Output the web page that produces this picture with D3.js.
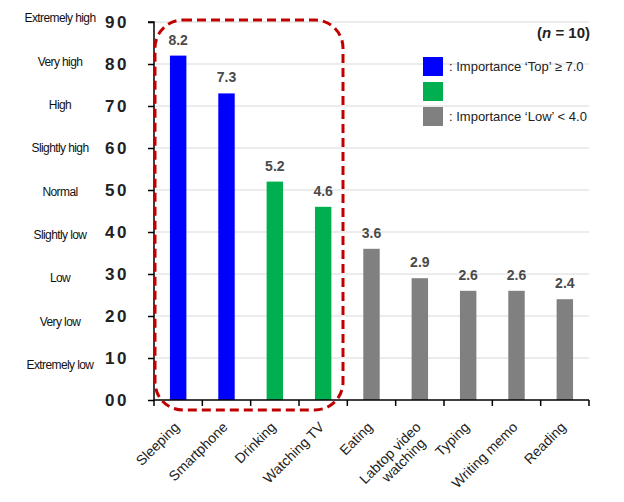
<!DOCTYPE html>
<html><head><meta charset="utf-8">
<script src="https://cdn.jsdelivr.net/npm/d3@7"></script>
<style>body{margin:0;background:#fff}text{font-family:"Liberation Sans",Arial,sans-serif}</style>
</head><body><svg id="c" width="624" height="502"></svg>
<script>
const categories = ["Sleeping","Smartphone","Drinking","Watching TV","Eating","Labtop video|watching","Typing","Writing memo","Reading"];
const values = [8.2,7.3,5.2,4.6,3.6,2.9,2.6,2.6,2.4];
const groups = ["top","top","mid","mid","low","low","low","low","low"];
const tickValues = [0,1,2,3,4,5,6,7,8,9];
const tickLabels = ["00","10","20","30","40","50","60","70","80","90"];
const levelLabels = ["","Extremely low","Very low","Low","Slightly low","Normal","Slightly high","High","Very high","Extremely high"];
const legendKeys = ["top","mid","low"];
const legendTexts = [": Importance \u2018Top\u2019 \u2265 7.0", "", ": Importance \u2018Low\u2019 < 4.0"];
const colors = {top:"#0000FF", mid:"#00B050", low:"#808080"};

const svg = d3.select("#c");
const x = d3.scaleBand().domain(categories).range([154,589]).paddingInner(0.66).paddingOuter(0.33);
const y = d3.scaleLinear().domain([0,9]).range([400,22]);
const labelY = d3.scaleLinear().domain([1,9]).range([365,18]);

// gridlines
svg.append("g").selectAll("line").data(tickValues.filter(d=>d>0)).join("line")
  .attr("x1",154).attr("x2",589).attr("y1",d=>y(d)).attr("y2",d=>y(d))
  .attr("stroke","#d9d9d9").attr("stroke-width",1);

// bars
svg.append("g").selectAll("rect").data(values).join("rect")
  .attr("x",(d,i)=>x(categories[i])).attr("width",x.bandwidth())
  .attr("y",d=>y(d)).attr("height",d=>y(0)-y(d))
  .attr("fill",(d,i)=>colors[groups[i]]);

// value labels
svg.append("g").selectAll("text").data(values).join("text")
  .attr("x",(d,i)=>x(categories[i])+x.bandwidth()/2).attr("y",d=>y(d)-11)
  .attr("text-anchor","middle").attr("font-size",14).attr("font-weight","bold")
  .attr("fill","#4a4a4a").text(d=>d.toFixed(1));

// y axis
const yAxis = svg.append("g").attr("transform","translate(154,0)")
  .call(d3.axisLeft(y).tickValues(tickValues).tickSize(6).tickFormat((d,i)=>tickLabels[i]).tickPadding(19));
yAxis.select(".domain").attr("stroke","#000").attr("stroke-width",1.5).attr("d","M-6,"+y(9)+"H0V"+y(0));
yAxis.selectAll(".tick line").attr("stroke","#000").attr("stroke-width",1.5);
yAxis.selectAll(".tick text").attr("font-size",17).attr("font-weight","bold").attr("fill","#222")
  .attr("letter-spacing","2.5").attr("font-family","Liberation Sans, Arial, sans-serif").attr("dy","0.35em");

// level labels
svg.append("g").selectAll("text").data(tickValues.filter(d=>d>0)).join("text")
  .attr("x",60).attr("y",d=>labelY(d)).attr("dy","0.35em").attr("text-anchor","middle")
  .attr("font-size",12).attr("letter-spacing","-0.6").attr("fill","#111")
  .text(d=>levelLabels[d]);

// x axis
const xAxis = svg.append("g").attr("transform","translate(0,"+y(0)+")");
xAxis.append("line").attr("x1",154).attr("x2",589).attr("stroke","#000").attr("stroke-width",1.5);
const step = x.step();
xAxis.selectAll(".xt").data(d3.range(categories.length+1)).join("line").attr("class","xt")
  .attr("x1",d=>154+d*step).attr("x2",d=>154+d*step).attr("y1",0).attr("y2",6)
  .attr("stroke","#000").attr("stroke-width",1.5);

// x labels
const xl = svg.append("g").selectAll("text").data(categories).join("text")
  .attr("transform",d=>"translate("+(x(d)+x.bandwidth()/2+2)+",428) rotate(-45)")
  .attr("text-anchor","end").attr("font-size",14).attr("fill","#222");
xl.each(function(d){
  const parts = d.split("|");
  const t = d3.select(this);
  parts.forEach((p,i)=>t.append("tspan").attr("x",i?-8:0).attr("dy",i?"1.05em":0).text(p));
});

// red dashed rounded rect
svg.append("rect").attr("x",155).attr("y",20).attr("width",188).attr("height",390)
  .attr("rx",28).attr("ry",28).attr("fill","none").attr("stroke","#C00000")
  .attr("stroke-width",3).attr("stroke-dasharray","9,5");

// legend
const lg = svg.append("g").selectAll("g").data(legendKeys).join("g")
  .attr("transform",(d,i)=>"translate(423,"+(57+i*25)+")");
lg.append("rect").attr("width",20).attr("height",19).attr("fill",d=>colors[d]);
lg.append("text").attr("x",26).attr("y",9).attr("dy","0.35em").attr("font-size",13).attr("fill","#222")
  .text((d,i)=>legendTexts[i]);

const nt = svg.append("text").attr("x",590).attr("y",38).attr("text-anchor","end")
  .attr("font-size",15).attr("font-weight","bold").attr("fill","#222");
nt.append("tspan").text("(");
nt.append("tspan").attr("font-style","italic").text("n");
nt.append("tspan").text(" = 10)");
</script></body></html>
